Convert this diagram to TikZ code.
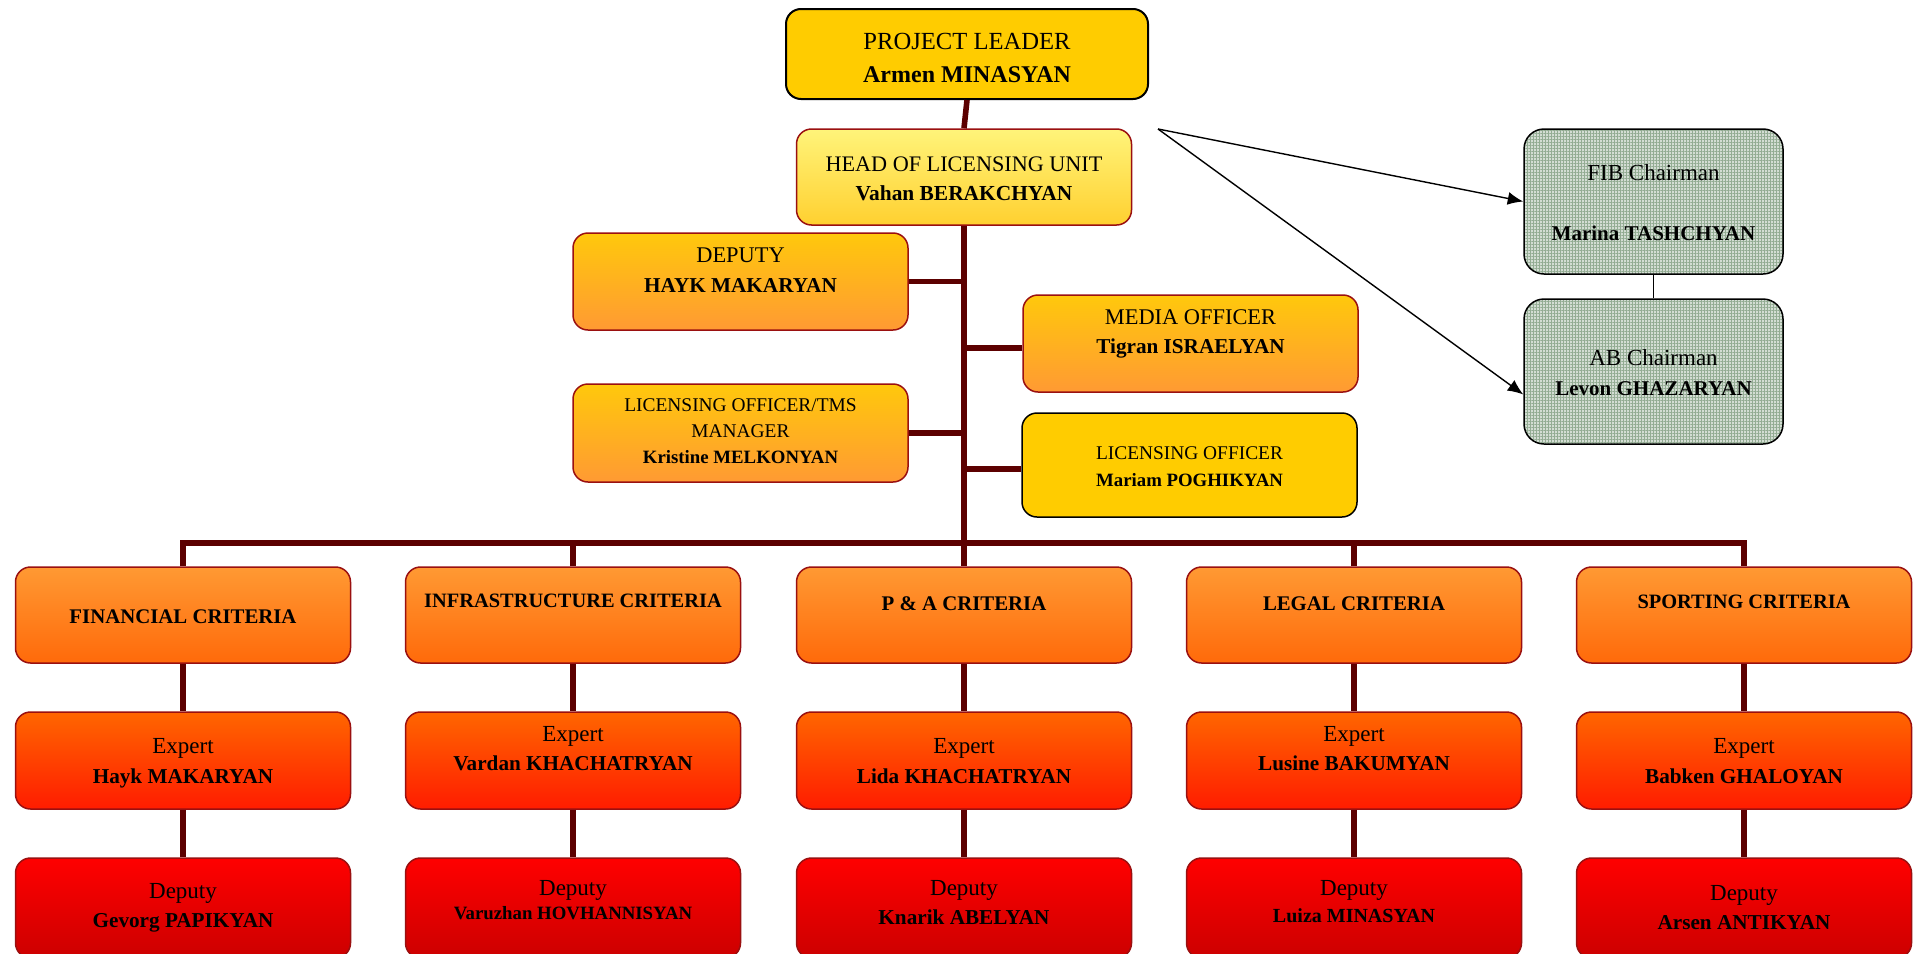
\documentclass[tikz,border=0pt]{standalone}
\usepackage{fontspec}
\setmainfont{Liberation Serif}
\usetikzlibrary{arrows.meta,patterns.meta}
\definecolor{lineC}{HTML}{5C0000}
\definecolor{bord}{HTML}{9A1010}
\definecolor{plY}{HTML}{FFCC00}
\definecolor{headT}{HTML}{FFF47A}
\definecolor{headB}{HTML}{FFD030}
\definecolor{depT}{HTML}{FFC80C}
\definecolor{depB}{HTML}{FF9A33}
\definecolor{crT}{HTML}{FF9933}
\definecolor{crB}{HTML}{FF6A0A}
\definecolor{exT}{HTML}{FF6600}
\definecolor{exB}{HTML}{FF1C00}
\definecolor{dpT}{HTML}{FF0000}
\definecolor{dpB}{HTML}{CC0000}
\definecolor{fibBg}{HTML}{D3DDD3}
\definecolor{fibLn}{HTML}{93AC93}
\tikzset{
  box/.style={rounded corners=7.5pt, inner sep=0pt, draw=bord, line width=0.75pt, minimum width=167.5pt},
  yelbox/.style={box, draw=black, fill=plY},
  headbox/.style={box, top color=headT, bottom color=headB, minimum height=48pt},
  depbox/.style={box, top color=depT, bottom color=depB},
  crbox/.style={box, top color=crT, bottom color=crB, minimum height=48pt},
  exbox/.style={box, top color=exT, bottom color=exB, minimum height=48.5pt},
  dpbox/.style={box, top color=dpT, bottom color=dpB, minimum height=50pt},
  fibbox/.style={rounded corners=10pt, inner sep=0pt, line width=0.75pt,
    minimum width=129.5pt, minimum height=72.5pt, fill=fibBg,
    postaction={pattern={Lines[angle=0,distance=1.5pt,line width=0.5pt]}, pattern color=fibLn},
    postaction={pattern={Lines[angle=90,distance=1.5pt,line width=0.5pt]}, pattern color=fibLn},
    postaction={draw=black, line width=0.75pt}},
  conn/.style={draw=lineC, line width=2.8pt},
  thin/.style={draw=black, line width=0.6pt},
  arr/.style={draw=black, line width=0.7pt, -{Latex[length=7.75pt,width=6.5pt]}},
  r/.style={anchor=base, inner sep=0pt, font=\fontsize{11.2}{13}\selectfont},
  b/.style={anchor=base, inner sep=0pt, font=\fontsize{10.6}{13}\selectfont\bfseries},
  rs/.style={anchor=base, inner sep=0pt, font=\fontsize{9.7}{12}\selectfont},
  bs/.style={anchor=base, inner sep=0pt, font=\fontsize{9.4}{12}\selectfont\bfseries},
}
\begin{document}
\begin{tikzpicture}[x=0.5pt,y=-0.5pt]
\useasboundingbox (0,0) rectangle (1914,953);
\clip (0,0) rectangle (1914,953);
% top boxes
\node[yelbox, minimum width=181pt, minimum height=45pt, line width=1pt] (pl) at (967,54) {};
\node[headbox] (head) at (964,177) {};
\node[depbox, minimum height=48.5pt] (dep) at (740.5,281.5) {};
\node[depbox, minimum height=48.5pt] (media) at (1190.5,343.5) {};
\node[depbox, minimum height=49pt] (lotms) at (740.5,433) {};
\node[yelbox, minimum height=52pt] (lo) at (1189.5,465) {};
\node[fibbox] (fib) at (1653.5,201.5) {};
\node[fibbox] (ab) at (1653.5,371.5) {};
% criteria row
\node[crbox] (fin) at (183,615) {};
\node[crbox] (inf) at (573,615) {};
\node[crbox] (pa) at (964,615) {};
\node[crbox] (leg) at (1354,615) {};
\node[crbox] (spo) at (1744,615) {};
% experts
\node[exbox] (efin) at (183,760.5) {};
\node[exbox] (einf) at (573,760.5) {};
\node[exbox] (epa) at (964,760.5) {};
\node[exbox] (eleg) at (1354,760.5) {};
\node[exbox] (espo) at (1744,760.5) {};
% deputies
\node[dpbox] (dfin) at (183,908) {};
\node[dpbox] (dinf) at (573,908) {};
\node[dpbox] (dpa) at (964,908) {};
\node[dpbox] (dleg) at (1354,908) {};
\node[dpbox] (dspo) at (1744,908) {};
% connectors
\draw[conn] (pl.south) -- (head.north);
\draw[conn] (head.south) -- (pa.north);
\draw[conn] (dep.east) -- (dep.east -| head.south);
\draw[conn] ([yshift=-2.25pt]media.west) -- ([yshift=-2.25pt]media.west -| head.south);
\draw[conn] (lotms.east) -- (lotms.east -| head.south);
\draw[conn] ([yshift=-2pt]lo.west) -- ([yshift=-2pt]lo.west -| head.south);
\coordinate (busL) at (183,543);
\coordinate (busR) at (1744,543);
\draw[conn] (fin.north) -- (busL) -- (busR) -- (spo.north);
\draw[conn] (inf.north) -- (inf.north |- busL);
\draw[conn] (leg.north) -- (leg.north |- busL);
\foreach \c in {fin,inf,pa,leg,spo}{
  \draw[conn] (\c.south) -- (e\c.north);
  \draw[conn] (e\c.south) -- (d\c.north);
}
\coordinate (src) at (1158,129);
\draw[arr] (src) -- (fib.west);
\draw[arr] (src) -- (ab.190);
\draw[thin] (fib.south) -- (ab.north);
% texts
\node[r, font=\fontsize{12.3}{14}\selectfont] (tpl1) at (967,49) {PROJECT LEADER};
\node[b, font=\fontsize{12}{14}\selectfont\bfseries] (tpl2) at (967,82) {Armen MINASYAN};
\node[r, font=\fontsize{11.1}{13}\selectfont] (thd1) at (964,171) {HEAD OF LICENSING UNIT};
\node[b, font=\fontsize{10.7}{13}\selectfont\bfseries] (thd2) at (964,200) {Vahan BERAKCHYAN};
\node[r] (tdp1) at (740.5,262) {DEPUTY};
\node[b] (tdp2) at (740.5,292) {HAYK MAKARYAN};
\node[r] (tmd1) at (1190.5,324) {MEDIA OFFICER};
\node[b] (tmd2) at (1190.5,353) {Tigran ISRAELYAN};
\node[rs] (tlt1) at (740.5,411) {LICENSING OFFICER/TMS};
\node[rs] (tlt2) at (740.5,437) {MANAGER};
\node[bs] (tlt3) at (740.5,463) {Kristine MELKONYAN};
\node[rs] (tlo1) at (1189.5,459) {LICENSING OFFICER};
\node[bs] (tlo2) at (1189.5,486) {Mariam POGHIKYAN};
\node[r, font=\fontsize{11.5}{13}\selectfont] (tfb1) at (1653.5,180) {FIB Chairman};
\node[b, font=\fontsize{10.5}{13}\selectfont\bfseries] (tfb2) at (1653.5,240) {Marina TASHCHYAN};
\node[r, font=\fontsize{11.5}{13}\selectfont] (tab1) at (1653.5,365) {AB Chairman};
\node[b, font=\fontsize{10.5}{13}\selectfont\bfseries] (tab2) at (1653.5,395) {Levon GHAZARYAN};
% criteria texts
\node[b, font=\fontsize{10.4}{13}\selectfont\bfseries] (tcr1) at (183,623) {FINANCIAL CRITERIA};
\node[b, font=\fontsize{10.2}{13}\selectfont\bfseries] (tcr2) at (573,607) {INFRASTRUCTURE CRITERIA};
\node[b, font=\fontsize{10.4}{13}\selectfont\bfseries] (tcr3) at (964,610) {P \& A CRITERIA};
\node[b, font=\fontsize{10.4}{13}\selectfont\bfseries] (tcr4) at (1354,610) {LEGAL CRITERIA};
\node[b, font=\fontsize{10.2}{13}\selectfont\bfseries] (tcr5) at (1744,608) {SPORTING CRITERIA};
% expert texts
\node[r, font=\fontsize{11.5}{13}\selectfont] (tex1a) at (183,753) {Expert};
\node[b] (tex1b) at (183,783) {Hayk MAKARYAN};
\node[r, font=\fontsize{11.5}{13}\selectfont] (tex2a) at (573,741) {Expert};
\node[b] (tex2b) at (573,770) {Vardan KHACHATRYAN};
\node[r, font=\fontsize{11.5}{13}\selectfont] (tex3a) at (964,753) {Expert};
\node[b] (tex3b) at (964,783) {Lida KHACHATRYAN};
\node[r, font=\fontsize{11.5}{13}\selectfont] (tex4a) at (1354,741) {Expert};
\node[b] (tex4b) at (1354,770) {Lusine BAKUMYAN};
\node[r, font=\fontsize{11.5}{13}\selectfont] (tex5a) at (1744,753) {Expert};
\node[b] (tex5b) at (1744,783) {Babken GHALOYAN};
% deputy texts
\node[r, font=\fontsize{11.5}{13}\selectfont] (tdd1a) at (183,898) {Deputy};
\node[b] (tdd1b) at (183,927) {Gevorg PAPIKYAN};
\node[r, font=\fontsize{11.5}{13}\selectfont] (tdd2a) at (573,895) {Deputy};
\node[bs] (tdd2b) at (573,919) {Varuzhan HOVHANNISYAN};
\node[r, font=\fontsize{11.5}{13}\selectfont] (tdd3a) at (964,895) {Deputy};
\node[b] (tdd3b) at (964,924) {Knarik ABELYAN};
\node[r, font=\fontsize{11.5}{13}\selectfont] (tdd4a) at (1354,895) {Deputy};
\node[b, font=\fontsize{10}{13}\selectfont\bfseries] (tdd4b) at (1354,922) {Luiza MINASYAN};
\node[r, font=\fontsize{11.5}{13}\selectfont] (tdd5a) at (1744,900) {Deputy};
\node[b] (tdd5b) at (1744,929) {Arsen ANTIKYAN};
\end{tikzpicture}
\end{document}
